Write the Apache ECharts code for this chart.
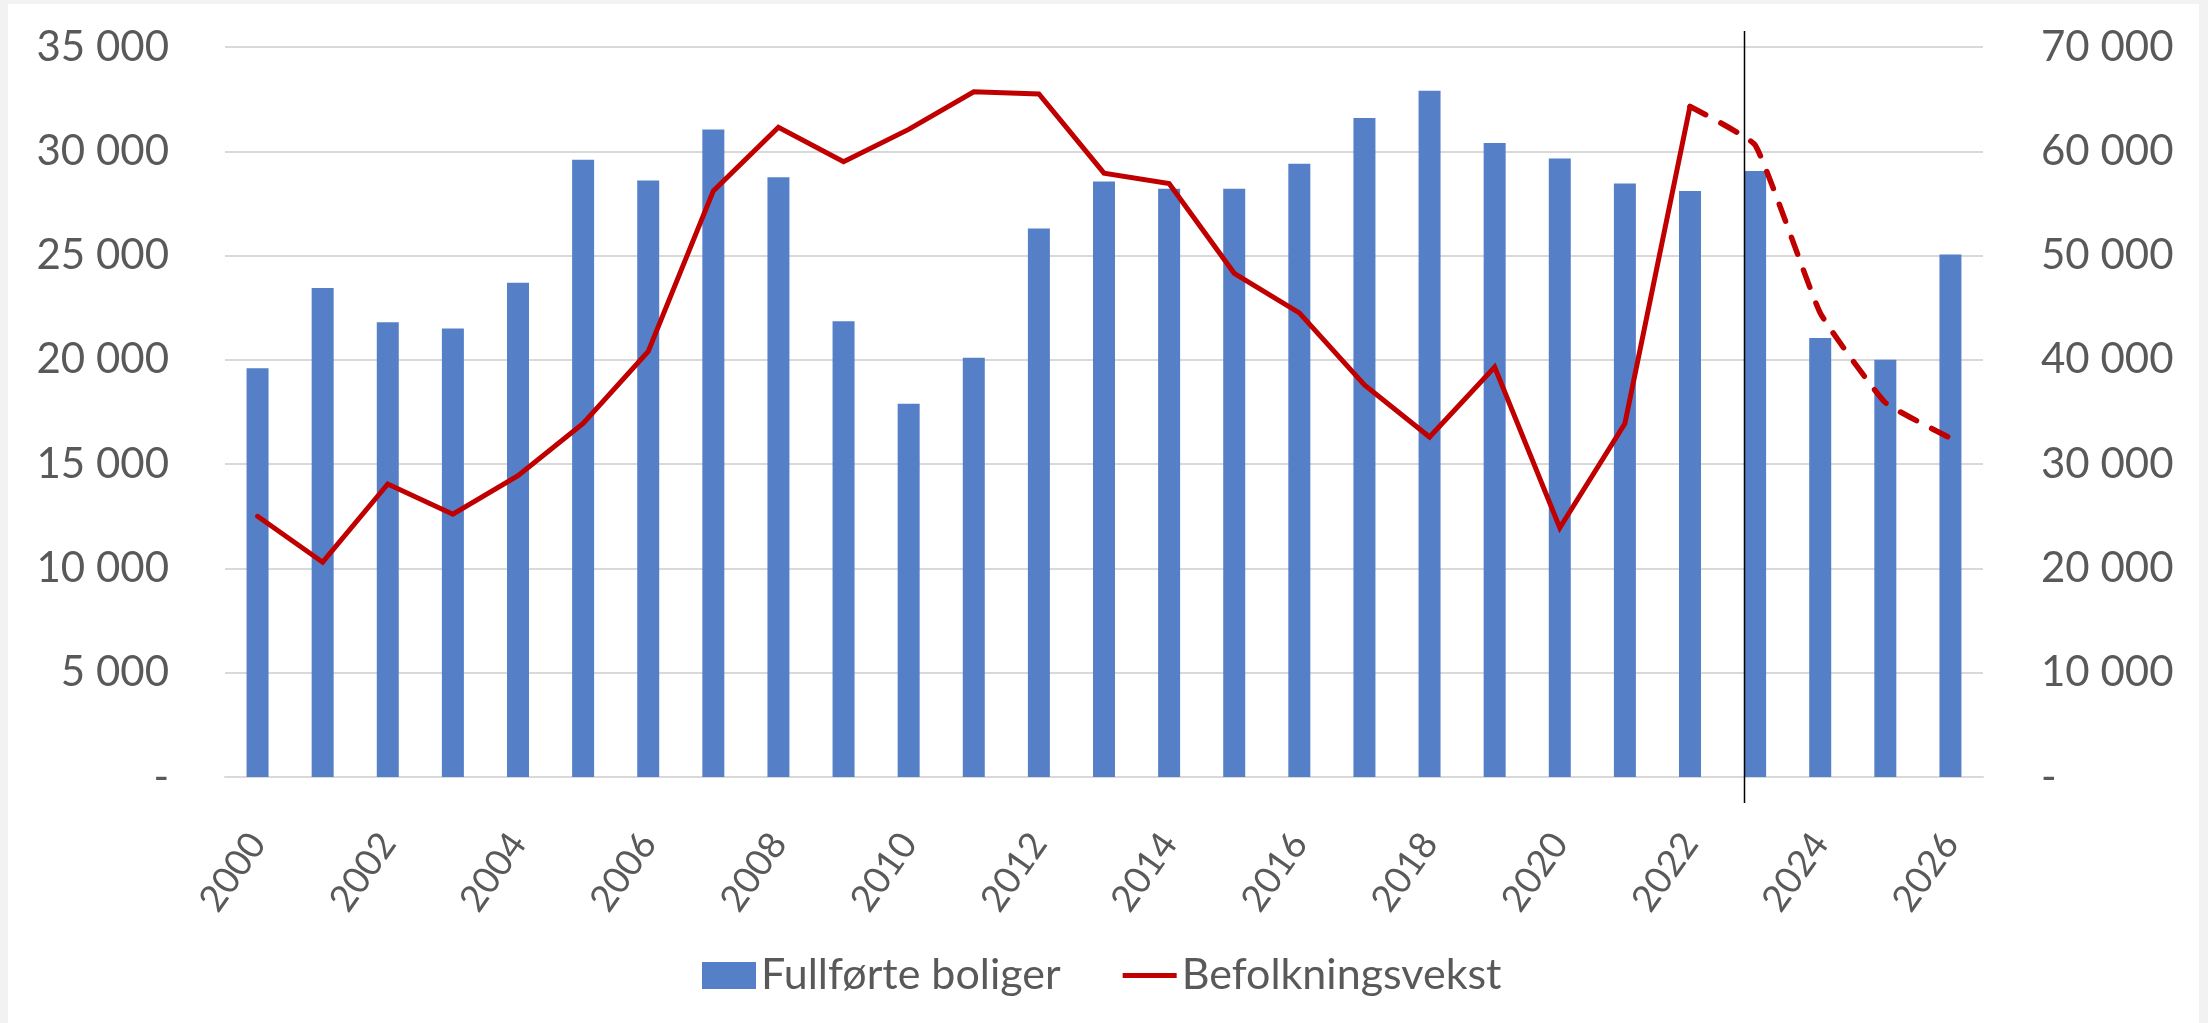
<!DOCTYPE html>
<html><head><meta charset="utf-8">
<script src="https://cdn.jsdelivr.net/npm/echarts@6/dist/echarts.min.js"></script>
<style>
html,body{margin:0;padding:0;background:#f2f2f2;overflow:hidden;}
#frame{position:absolute;left:8px;top:4px;width:2191px;height:1019px;background:#ffffff;}
#chart{position:absolute;left:0;top:0;width:2208px;height:1023px;}
</style></head><body>
<div id="frame"></div><div id="chart"></div>
<script>
const years = ['2000','2001','2002','2003','2004','2005','2006','2007','2008','2009','2010','2011','2012','2013','2014','2015','2016','2017','2018','2019','2020','2021','2022','2023','2024','2025','2026'];
const completedHomes = [19600,23450,21800,21500,23700,29600,28600,31050,28750,21850,17900,20100,26300,28550,28200,28200,29400,31600,32900,30400,29650,28450,28100,29050,21050,20000,25050];
const populationGrowth = [25000,20600,28100,25200,28900,33900,40800,56200,62300,59000,62100,65700,65500,57900,56900,48300,44500,37600,32600,39300,23900,33900,64300,60600,44500,35900,32500];
const forecastFrom = '2022';
const dividerYear = '2023';
const leftTickLabels = ['-','5 000','10 000','15 000','20 000','25 000','30 000','35 000'];
const rightTickLabels = ['-','10 000','20 000','30 000','40 000','50 000','60 000','70 000'];

const splitIdx = years.indexOf(forecastFrom);
const actualLine = populationGrowth.map((v,i)=> i<=splitIdx ? v : '-');
const forecastLine = populationGrowth.map((v,i)=> i>=splitIdx ? v : '-');

const txt = '#595959';
const chart = echarts.init(document.getElementById('chart'), null, {renderer:'canvas'});
chart.setOption({
  backgroundColor: 'transparent',
  animation: false,
  grid: {left:225, right:225, top:47, bottom:246, containLabel:false},
  legend: {
    left: 702, top: 954, padding: 0, itemGap: 62, itemWidth: 54, itemHeight: 27,
    textStyle: {color: txt, fontFamily: 'Lato', fontSize: 43},
    data: [
      {name:'Fullførte boliger', icon:'rect', itemStyle:{color:'#5580C8'}},
      {name:'Befolkningsvekst', icon:'path://M0,0H54V5H0Z', itemStyle:{color:'#C00000'}}
    ]
  },
  xAxis: {
    type:'category', data: years,
    axisTick:{show:false},
    axisLine:{lineStyle:{color:'#d9d9d9', width:2}},
    axisLabel:{interval:1, rotate:55, margin:60, color: txt, fontFamily:'Lato', fontSize:37}
  },
  yAxis: [
    {type:'value', min:0, max:35000, interval:5000,
     axisLine:{show:false}, axisTick:{show:false},
     splitLine:{lineStyle:{color:'#d9d9d9', width:2}},
     axisLabel:{margin:56, color: txt, fontFamily:'Lato', fontSize:42,
       formatter: v => leftTickLabels[Math.round(v/5000)]}},
    {type:'value', min:0, max:70000, interval:10000, position:'right',
     axisLine:{show:false}, axisTick:{show:false}, splitLine:{show:false},
     axisLabel:{margin:58, color: txt, fontFamily:'Lato', fontSize:42, align:'left',
       formatter: v => rightTickLabels[Math.round(v/10000)]}}
  ],
  series: [
    {name:'Fullførte boliger', type:'bar', data: completedHomes, barWidth:22,
     itemStyle:{color:'#5580C8'}},
    {name:'Befolkningsvekst', type:'line', yAxisIndex:1, data: actualLine,
     showSymbol:false, symbol:'none', connectNulls:false,
     itemStyle:{color:'#C00000'},
     lineStyle:{color:'#C00000', width:5, cap:'round', join:'miter'}, z:3},
    {name:'Befolkningsvekst', type:'line', yAxisIndex:1, data: forecastLine,
     showSymbol:false, symbol:'none', smooth:0.12, connectNulls:false,
     itemStyle:{color:'#C00000'},
     lineStyle:{color:'#C00000', width:5.5, type:[18,17], cap:'round'}, z:3}
  ]
});

const cx = chart.convertToPixel({xAxisIndex:0}, dividerYear);
const yTop = chart.convertToPixel({yAxisIndex:0}, 35000);
const yBot = chart.convertToPixel({yAxisIndex:0}, 0);
const lx = Math.round(cx - 11) + 0.5;
chart.setOption({
  graphic: [{type:'line', z:100, shape:{x1:lx, y1:yTop-16, x2:lx, y2:yBot+26},
    style:{stroke:'#000000', lineWidth:1.5}}]
});
</script></body></html>
